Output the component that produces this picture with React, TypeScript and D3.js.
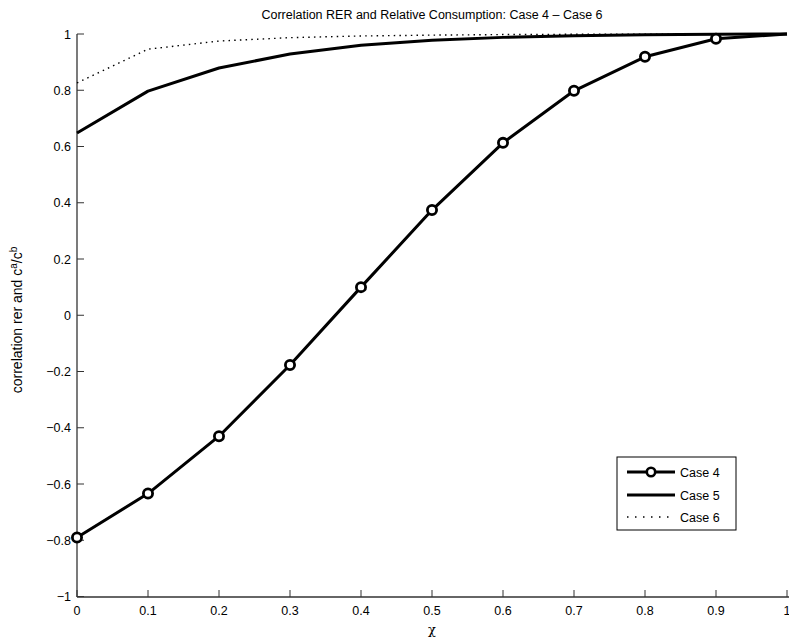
import React from "react";
import * as d3 from "d3";

const xValues = [0, 0.1, 0.2, 0.3, 0.4, 0.5, 0.6, 0.7, 0.8, 0.9, 1.0];
const case4 = [-0.79, -0.634, -0.43, -0.177, 0.1, 0.374, 0.613, 0.798, 0.919, 0.983, 1.0];
const case5 = [0.648, 0.797, 0.879, 0.929, 0.96, 0.978, 0.988, 0.994, 0.997, 0.999, 1.0];
const case6 = [0.826, 0.946, 0.975, 0.987, 0.993, 0.996, 0.998, 0.999, 0.9995, 1.0, 1.0];
const xTicks = [0, 0.1, 0.2, 0.3, 0.4, 0.5, 0.6, 0.7, 0.8, 0.9, 1];
const yTicks = [-1, -0.8, -0.6, -0.4, -0.2, 0, 0.2, 0.4, 0.6, 0.8, 1];
const legendLabels = ["Case 4", "Case 5", "Case 6"];

const W = 789;
const H = 641;
const FONT = "Liberation Sans, Arial, Helvetica, sans-serif";

function fmt(v: number): string {
  if (v === 0) return "0";
  const s = String(Math.round(v * 10) / 10);
  return s.replace("-", "\u2212");
}

export default function App() {
  const x = d3.scaleLinear().domain([0, 1]).range([77, 787]);
  const y = d3.scaleLinear().domain([-1, 1]).range([596.5, 34]);
  const line = d3
    .line<number>()
    .x((_, i) => x(xValues[i]))
    .y((d) => y(d));

  const axisColor = "#333";
  const legX = 617;
  const legY = 457;
  const legW = 119;
  const legH = 73;
  const rows = [472, 495, 517];

  return (
    <svg
      width={W}
      height={H}
      style={{ position: "absolute", left: 0, top: 0, background: "#fff" }}
      fontFamily={FONT}
    >
      <rect x={0} y={0} width={W} height={H} fill="#fff" />
      {/* axes */}
      <line x1={77} y1={34} x2={77} y2={597} stroke={axisColor} strokeWidth={1.3} />
      <line x1={77} y1={597} x2={W} y2={597} stroke={axisColor} strokeWidth={1.3} />
      {yTicks.map((t) => (
        <g key={"y" + t}>
          <line x1={77} x2={84} y1={y(t)} y2={y(t)} stroke={axisColor} strokeWidth={1} />
          <text x={71} y={y(t) + 4.5} fontSize={12.5} textAnchor="end" fill="#000">
            {fmt(t)}
          </text>
        </g>
      ))}
      {xTicks.map((t) => (
        <g key={"x" + t}>
          <line x1={x(t)} x2={x(t)} y1={597} y2={590} stroke={axisColor} strokeWidth={1} />
          <text x={x(t)} y={615} fontSize={12.5} textAnchor="middle" fill="#000">
            {fmt(t)}
          </text>
        </g>
      ))}

      {/* series */}
      <path d={line(case6) || ""} fill="none" stroke="#000" strokeWidth={1.4} strokeDasharray="1.5,4.2" />
      <path d={line(case5) || ""} fill="none" stroke="#000" strokeWidth={3} strokeLinejoin="round" />
      <path d={line(case4) || ""} fill="none" stroke="#000" strokeWidth={3} strokeLinejoin="round" />
      {case4.slice(0, 10).map((v, i) => (
        <circle key={"m" + i} cx={x(xValues[i])} cy={y(v)} r={4.6} fill="#fff" stroke="#000" strokeWidth={2.8} />
      ))}

      {/* title and labels */}
      <text x={432} y={19} fontSize={12.5} textAnchor="middle" fill="#000">
        Correlation RER and Relative Consumption: Case 4 – Case 6
      </text>
      <text x={432} y={634} fontSize={13} textAnchor="middle" fill="#000" fontFamily="DejaVu Serif, serif">
        χ
      </text>
      <text transform="translate(22,320) rotate(-90)" fontSize={14} textAnchor="middle" fill="#000">
        correlation rer and c
        <tspan dy={-5.5} fontSize={10}>a</tspan>
        <tspan dy={5.5}>/c</tspan>
        <tspan dy={-5.5} fontSize={10}>b</tspan>
      </text>

      {/* legend */}
      <rect x={legX} y={legY} width={legW} height={legH} fill="#fff" stroke="#000" strokeWidth={1} />
      <line x1={627} x2={675} y1={rows[0]} y2={rows[0]} stroke="#000" strokeWidth={3} />
      <circle cx={651} cy={rows[0]} r={4.2} fill="#fff" stroke="#000" strokeWidth={2.6} />
      <line x1={627} x2={675} y1={rows[1]} y2={rows[1]} stroke="#000" strokeWidth={3} />
      <line x1={627} x2={675} y1={rows[2]} y2={rows[2]} stroke="#000" strokeWidth={1.3} strokeDasharray="1.5,6.5" />
      {legendLabels.map((l, i) => (
        <text key={l} x={680} y={rows[i] + 4.5} fontSize={12.5} fill="#000">
          {l}
        </text>
      ))}
    </svg>
  );
}
